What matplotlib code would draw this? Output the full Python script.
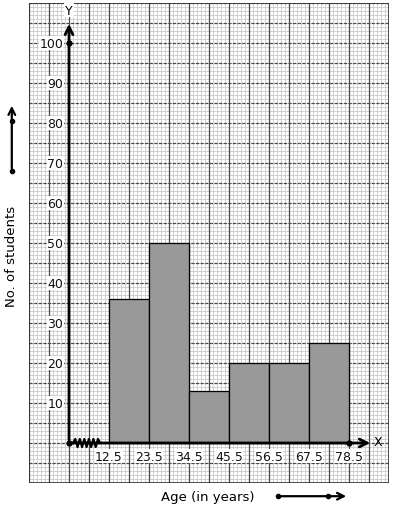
import numpy as np
import matplotlib.pyplot as plt

# class boundaries (age in years) and number of students in each class
boundaries = ['12.5', '23.5', '34.5', '45.5', '56.5', '67.5', '78.5']
students = [36, 50, 13, 20, 20, 25]
y_ticks = [10, 20, 30, 40, 50, 60, 70, 80, 90, 100]

CLASS_W = 10  # width of one class on the graph paper (1 unit = 1 small square)

fig = plt.figure(figsize=(3.94, 5.10), dpi=100)
ax = fig.add_axes([29 / 394, 26 / 510, 360 / 394, 480 / 510])
ax.set_xlim(-10, 80)
ax.set_ylim(-10, 110)
ax.set_axis_off()

# graph paper
for v in np.arange(-10, 81, 1):
    ax.axvline(v, color='#d0d0d0', lw=0.7, zorder=0)
for v in np.arange(-10, 111, 1):
    ax.axhline(v, color='#d0d0d0', lw=0.7, zorder=0)
for v in np.arange(-10, 81, 5):
    ax.axvline(v, color='#4a4a4a', lw=0.9, zorder=1)
for v in np.arange(-10, 111, 5):
    ax.axhline(v, color='#4a4a4a', lw=0.9, ls=(0, (2.5, 1.2)), zorder=1)
ax.plot([-10, 80, 80, -10, -10], [-10, -10, 110, 110, -10], color='#333333', lw=1.2, zorder=1)

# histogram (first class starts one class width after the kink)
lefts = [CLASS_W * (i + 1) for i in range(len(students))]
ax.bar(lefts, students, width=CLASS_W, align='edge', color='#999999',
       edgecolor='black', lw=0.9, zorder=3)

# axes with arrows
ax.annotate('', xy=(0, 105.5), xytext=(0, 0),
            arrowprops=dict(arrowstyle='->', lw=2, color='black', mutation_scale=14), zorder=5)
ax.annotate('', xy=(76, 0), xytext=(0, 0),
            arrowprops=dict(arrowstyle='->', lw=2, color='black', mutation_scale=14), zorder=5)
ax.plot([0, 0, CLASS_W * (len(students) + 1)], [0, 100, 0], 'o', color='black', ms=3.5, zorder=6)
ax.text(0, 108.2, 'Y', ha='center', va='center', fontsize=9,
        bbox=dict(fc='white', ec='none', pad=0.5), zorder=6)
ax.text(77.3, 0.3, 'X', ha='center', va='center', fontsize=9, zorder=6)

# kink on the x axis
zx = np.linspace(1.0, 7.8, 13)
zy = np.where(np.arange(13) % 2 == 0, -1.0, 1.0)
zy[0] = 0
zy[-1] = 0
ax.plot(zx, zy, color='black', lw=1.6, zorder=6)

# tick labels
for v in y_ticks:
    ax.text(-1.4, v, str(v), ha='right', va='center', fontsize=9, color='#111111',
            bbox=dict(fc='white', ec='none', pad=0.3), zorder=4)
for i, lab in enumerate(boundaries):
    ax.text(CLASS_W * (i + 1), -3.3, lab, ha='center', va='center', fontsize=9,
            color='#111111', bbox=dict(fc='white', ec='none', pad=0.3), zorder=4)

# axis titles with scale arrows
ax.text(-14.3, 47, 'No. of students', rotation=90, ha='center', va='center',
        fontsize=9.5, clip_on=False)
ax.annotate('', xy=(-14.3, 85), xytext=(-14.3, 68), annotation_clip=False,
            arrowprops=dict(arrowstyle='->', lw=1.6, color='black', mutation_scale=12))
ax.plot([-14.3, -14.3], [68, 80.5], 'o', color='black', ms=3, clip_on=False)

ax.text(34.8, -13.3, 'Age (in years)', ha='center', va='center', fontsize=9.5, clip_on=False)
ax.annotate('', xy=(70, -13.3), xytext=(52.3, -13.3), annotation_clip=False,
            arrowprops=dict(arrowstyle='->', lw=1.6, color='black', mutation_scale=12))
ax.plot([52.3, 64.8], [-13.3, -13.3], 'o', color='black', ms=3, clip_on=False)

fig.savefig('out.png', dpi=100, facecolor='white')
